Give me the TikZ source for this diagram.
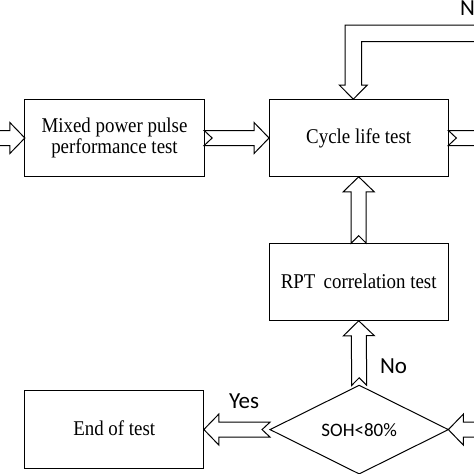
\documentclass[tikz,border=0pt]{standalone}
\usepackage{fontspec}
\setmainfont{Liberation Serif}[FakeStretch=0.9]
\newfontfamily\labfont{Carlito}
\usetikzlibrary{calc,shapes.geometric}
% #1 tail point, #2 tip point, #3 notch depth
\newcommand\blockarrow[3]{%
  \draw[blk] ($(#1)!7.5pt!90:(#2)$)
    -- ($(#2)!15pt!(#1)!7.5pt!-90:(#1)$)
    -- ($(#2)!15pt!(#1)!15.5pt!-90:(#1)$)
    -- (#2)
    -- ($(#2)!15pt!(#1)!15.5pt!90:(#1)$)
    -- ($(#2)!15pt!(#1)!7.5pt!90:(#1)$)
    -- ($(#1)!7.5pt!-90:(#2)$)
    -- ($(#1)!#3!(#2)$) -- cycle;}
\begin{document}
\begin{tikzpicture}[x=1pt,y=-1pt,line width=1pt,
  box/.style={draw, rectangle, minimum width=179.3pt, minimum height=77.6pt,
    inner sep=0pt, outer sep=0pt, align=center,
    font=\fontsize{21}{17}\selectfont},
  dia/.style={draw, diamond, minimum width=178.3pt, minimum height=77.3pt,
    inner sep=0pt, outer sep=0pt, font=\labfont\fontsize{19}{19}\selectfont},
  lab/.style={anchor=base west, inner sep=0pt, font=\labfont\fontsize{23}{23}\selectfont},
  blk/.style={draw, line join=miter}]
\useasboundingbox (0,0) rectangle (474,474);
\clip (0,0) rectangle (474,474);

\node[box] (mix) at (114.5,138) {Mixed power pulse\\performance test};
\node[box] (cyc) at (358.7,138) {\raisebox{1pt}{Cycle life test}};
\node[box] (rpt) at (358.7,282) {\raisebox{2.5pt}{RPT\, correlation test}};
\node[box] (endt) at (114.2,429.5) {\raisebox{2.5pt}{End of test}};
\node[dia] (soh) at (359.2,429.6) {SOH<80\%};

\coordinate (inL) at (-20,138);
\coordinate (outR) at (495,138);
\coordinate (inR) at (495,429.6);
\coordinate (looptip) at ($(cyc.north)+(-5.4,0)$);

\blockarrow{inL}{mix.west}{0pt}
\blockarrow{mix.east}{cyc.west}{8pt}
\blockarrow{cyc.east}{outR}{8pt}
\blockarrow{rpt.north}{cyc.south}{7.5pt}
\blockarrow{soh.north}{rpt.south}{7.5pt}
\blockarrow{soh.west}{endt.east}{8pt}
\blockarrow{inR}{soh.east}{0pt}

\draw[blk] (495,25) -- (345,25) -- (345,85) -- (339.3,85) -- (looptip)
  -- (367.3,85) -- (361.7,85) -- (361.7,41.7) -- (495,41.7);

\node[lab] (no1) at (379.5,373) {No};
\node[lab] (yes) at (228.5,408.3) {Yes};
\node[lab] (no2) at (459.5,15) {No};
\end{tikzpicture}
\end{document}
